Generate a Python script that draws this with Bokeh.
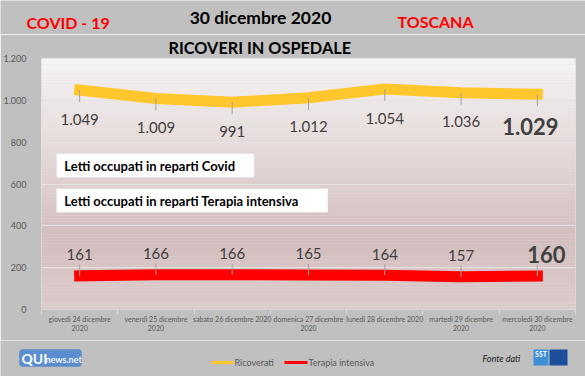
import numpy as np
from bokeh.plotting import figure
from bokeh.layouts import column
from bokeh.models import (Range1d, FixedTicker, Label, BoxAnnotation, ColumnDataSource, Title)
from bokeh.core.properties import value
from bokeh.embed import file_html
from bokeh.resources import INLINE

# ---------------- data ----------------
giorni = ["giovedì 24 dicembre 2020", "venerdì 25 dicembre 2020", "sabato 26 dicembre 2020",
          "domenica 27 dicembre 2020", "lunedì 28 dicembre 2020", "martedì 29 dicembre 2020",
          "mercoledì 30 dicembre 2020"]
etichette_giorni = ["giovedì 24 dicembre\n2020", "venerdì 25 dicembre\n2020", "sabato 26 dicembre 2020",
                    "domenica 27 dicembre\n2020", "lunedì 28 dicembre 2020", "martedì 29 dicembre\n2020",
                    "mercoledì 30 dicembre\n2020"]
ricoverati = [1049, 1009, 991, 1012, 1054, 1036, 1029]
terapia_intensiva = [161, 166, 166, 165, 164, 157, 160]
y_ticks = [0, 200, 400, 600, 800, 1000, 1200]

FONT = "Lato"
GRAY_TXT = "#595959"
LBL_TXT = "#404040"
BG = "#c0c0c0"
W = 585


def fmt(v):
    return f"{v:,}".replace(",", ".")


n = len(giorni)
xs = [i + 0.5 for i in range(n)]
YMAX = y_ticks[-1]

# page layout (pixels)
HEAD_H = 34
FX0, FX1, FY0, FY1 = 38, 575, 58, 309
MAIN_TOP, MAIN_BOT = FY0 - HEAD_H, 31
FOOT_H = 36


def dx(px):
    return (px - FX0) / (FX1 - FX0) * n


def dy(py):
    return (FY1 - py) / (FY1 - FY0) * YMAX


def blank(h, y0):
    f = figure(width=W, height=h, output_backend="svg", toolbar_location=None,
               x_range=Range1d(0, W), y_range=Range1d(y0 + h, y0),
               x_axis_location=None, y_axis_location=None, frame_align=False)
    f.min_border = 0
    f.grid.visible = False
    f.outline_line_color = None
    f.background_fill_color = BG
    f.border_fill_color = BG
    return f


def lab(fig, x, y, txt, size, color, style="bold", align="left"):
    fig.add_layout(Label(x=x, y=y, text=txt, text_font=FONT, text_font_size=size,
                         text_font_style=style, text_color=color, text_align=align,
                         text_baseline="middle"))


# ---------------- header ----------------
head = blank(HEAD_H, 0)
lab(head, 26, 22, "COVID - 19", "16px", "#FF0000")
lab(head, 397, 21, "TOSCANA", "16px", "#FF0000")
lab(head, 260, 17, "30 dicembre 2020", "17.5px", "black", align="center")

# ---------------- main chart ----------------
p = figure(width=W, height=MAIN_TOP + (FY1 - FY0) + MAIN_BOT, output_backend="svg",
           toolbar_location=None, x_range=Range1d(0, n), y_range=Range1d(0, YMAX),
           frame_align=False)
p.min_border = 0
p.min_border_left = FX0
p.min_border_right = W - FX1
p.min_border_top = MAIN_TOP
p.min_border_bottom = MAIN_BOT
p.border_fill_color = BG
p.background_fill_color = "#e6dcdc"
p.outline_line_color = None
p.add_layout(Title(text="RICOVERI IN OSPEDALE", align="left", offset=127, standoff=3,
                   vertical_align="bottom", text_font=FONT, text_font_size="16.3px",
                   text_font_style="bold", text_color="black"), "above")

# gradient background of the plot area
stops_f = [0.0, 0.72, 1.0]
stops_c = [(247, 245, 245), (212, 190, 190), (221, 204, 204)]
NB = 80
edges = np.linspace(YMAX, 0, NB + 1)
cols = []
for i in range(NB):
    f = (i + 0.5) / NB
    r = int(np.interp(f, stops_f, [c[0] for c in stops_c]))
    g = int(np.interp(f, stops_f, [c[1] for c in stops_c]))
    b = int(np.interp(f, stops_f, [c[2] for c in stops_c]))
    cols.append(f"#{r:02x}{g:02x}{b:02x}")
bg = p.quad(left=0, right=n, top=edges[:-1], bottom=edges[1:], fill_color=cols, line_color=None)
bg.level = "image"

p.xgrid.visible = False
p.ygrid.ticker = FixedTicker(ticks=y_ticks[1:])
p.ygrid.grid_line_color = "#e4e2e2"
p.ygrid.grid_line_width = 1

p.yaxis.ticker = FixedTicker(ticks=y_ticks)
p.yaxis.major_label_overrides = {t: fmt(t) for t in y_ticks}
p.yaxis.axis_line_color = None
p.yaxis.major_tick_line_color = None
p.yaxis.minor_tick_line_color = None
p.yaxis.major_label_text_font = FONT
p.yaxis.major_label_text_font_size = "9px"
p.yaxis.major_label_text_color = GRAY_TXT
p.yaxis.major_label_standoff = 9

p.xaxis.ticker = FixedTicker(ticks=xs, minor_ticks=list(range(n + 1)))
p.xaxis.major_label_overrides = {x: t for x, t in zip(xs, etichette_giorni)}
p.xaxis.axis_line_color = "#d9d9d9"
p.xaxis.major_tick_line_color = None
p.xaxis.minor_tick_line_color = "#d9d9d9"
p.xaxis.minor_tick_out = 5
p.xaxis.minor_tick_in = 0
p.xaxis.major_tick_out = 0
p.xaxis.major_tick_in = 0
p.xaxis.major_label_text_font = FONT
p.xaxis.major_label_text_font_size = "7px"
p.xaxis.major_label_text_color = GRAY_TXT
p.xaxis.major_label_standoff = 0

# series lines
p.line(xs, ricoverati, line_color="#FFC72C", line_width=11, line_cap="square", line_join="miter")
p.line(xs, terapia_intensiva, line_color="#FF0000", line_width=11, line_cap="square", line_join="miter")

# leader lines
p.ray(x=xs, y=ricoverati, length=12, angle=-np.pi / 2, length_units="screen",
      line_color="#a0a0a0", line_width=1)
p.ray(x=xs, y=terapia_intensiva, length=11, angle=np.pi / 2, length_units="screen",
      line_color="#a0a0a0", line_width=1)

# data labels
src_r = ColumnDataSource(dict(x=xs[:-1], y=ricoverati[:-1], t=[fmt(v) for v in ricoverati[:-1]]))
src_t = ColumnDataSource(dict(x=xs[:-1], y=terapia_intensiva[:-1], t=[fmt(v) for v in terapia_intensiva[:-1]]))
p.text(x="x", y="y", text="t", source=src_r, text_font=value(FONT), text_font_size="15px",
       text_color=LBL_TXT, text_align="center", text_baseline="middle", y_offset=29)
p.text(x="x", y="y", text="t", source=src_t, text_font=value(FONT), text_font_size="15px",
       text_color=LBL_TXT, text_align="center", text_baseline="middle", y_offset=-21)
p.text(x=xs[-1:], y=ricoverati[-1:], text=[fmt(ricoverati[-1])], text_font=value(FONT),
       text_font_size="22px", text_font_style="bold", text_color=LBL_TXT,
       text_align="center", text_baseline="middle", y_offset=32, x_offset=-7)
p.text(x=xs[-1:], y=terapia_intensiva[-1:], text=[fmt(terapia_intensiva[-1])], text_font=value(FONT),
       text_font_size="22px", text_font_style="bold", text_color=LBL_TXT,
       text_align="center", text_baseline="middle", y_offset=-22, x_offset=9)

# text boxes
for (l, r, t, b), txt in [((53, 252, 153, 177), "Letti occupati in reparti Covid"),
                          ((53, 326, 188, 212), "Letti occupati in reparti Terapia intensiva")]:
    p.add_layout(BoxAnnotation(left=dx(l), right=dx(r), top=dy(t), bottom=dy(b),
                               fill_color="white", fill_alpha=1, line_color="#cfcfcf", line_width=1))
    p.add_layout(Label(x=dx(l + 8), y=dy((t + b) / 2), text=txt, text_font=FONT,
                       text_font_size="13px", text_font_style="bold", text_color="black",
                       text_baseline="middle", text_align="left"))

# ---------------- footer ----------------
FY = FY1 + MAIN_BOT
foot = blank(FOOT_H, FY)
foot.add_layout(BoxAnnotation(left=211, right=233, top=360.5, bottom=363.5,
                              fill_color="#FFC72C", fill_alpha=1, line_color=None))
lab(foot, 234, 362, "Ricoverati", "9px", GRAY_TXT, style="normal")
foot.add_layout(BoxAnnotation(left=284, right=307, top=360.5, bottom=363.5,
                              fill_color="#FF0000", fill_alpha=1, line_color=None))
lab(foot, 308, 362, "Terapia intensiva", "9px", GRAY_TXT, style="normal")

lab(foot, 482, 358, "Fonte dati", "9px", "#202020", style="italic")
foot.add_layout(BoxAnnotation(left=533, right=548, top=349, bottom=365,
                              fill_color="#3d8fd6", fill_alpha=1, line_color=None))
foot.add_layout(BoxAnnotation(left=549, right=567, top=349, bottom=365,
                              fill_color="#1d4f9c", fill_alpha=1, line_color=None))
lab(foot, 540.5, 353, "SST", "7px", "white", align="center")

foot.add_layout(BoxAnnotation(left=19, right=81, top=349, bottom=366,
                              fill_color="#5b8ed0", fill_alpha=1, line_color="#4a78b5",
                              border_radius=3))
lab(foot, 21, 357.5, "QUI", "14px", "white")
lab(foot, 45, 358.5, "news.net", "9px", "#eef3fb", style="bold")

page = column(head, p, foot, spacing=0)
open("out.html", "w").write(file_html(page, INLINE))
